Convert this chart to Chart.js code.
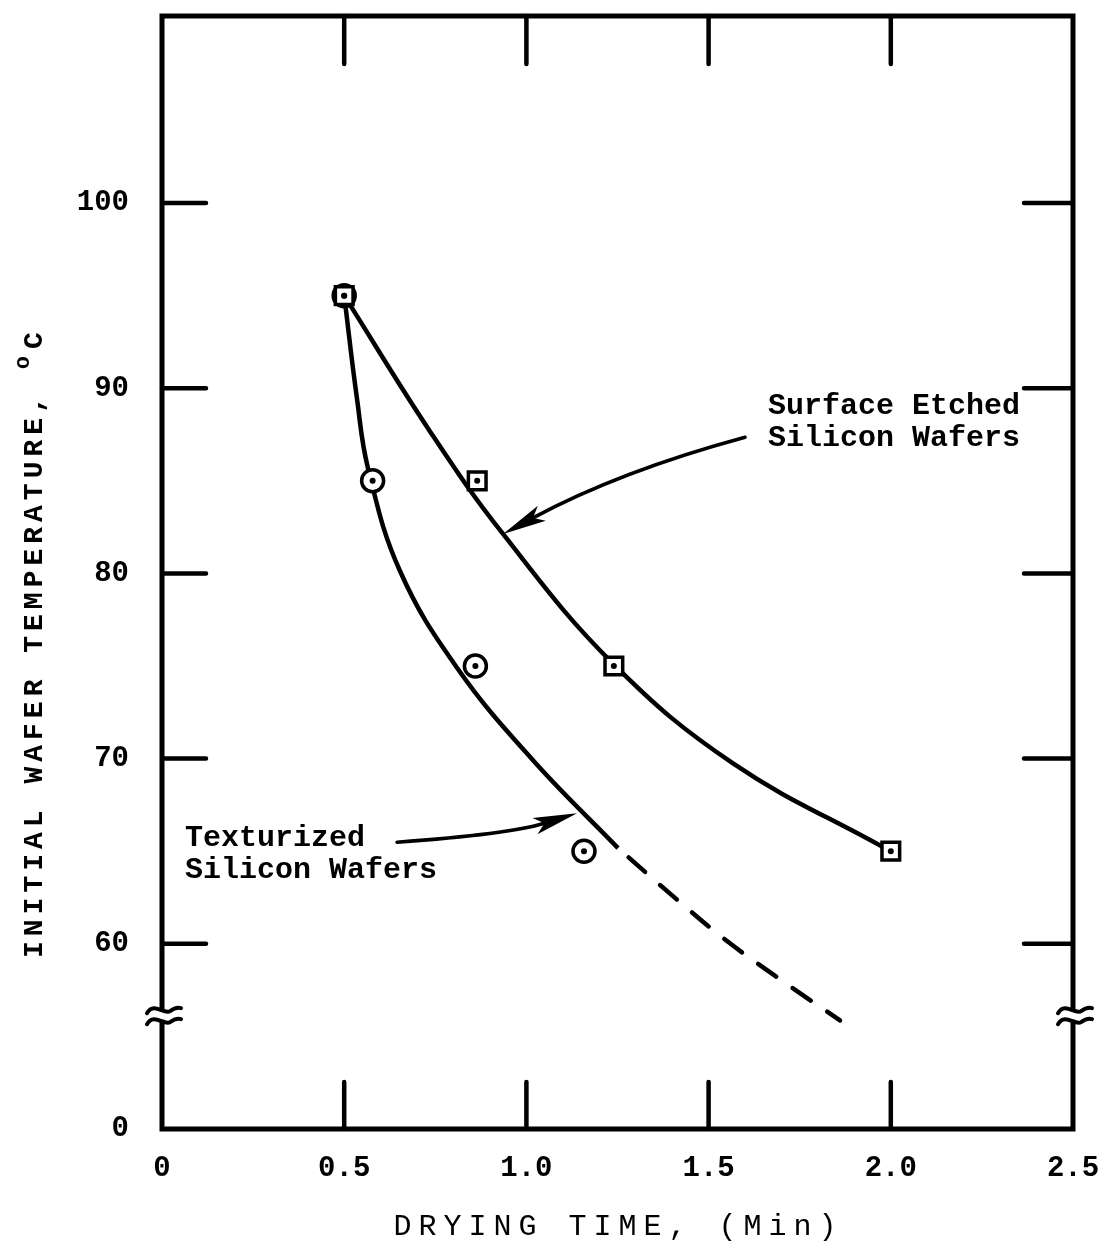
<!DOCTYPE html>
<html>
<head>
<meta charset="utf-8">
<title>Drying time vs initial wafer temperature</title>
<script src="https://cdn.jsdelivr.net/npm/chart.js@4/dist/chart.umd.min.js"></script>
<style>
  html, body { margin: 0; padding: 0; background: #fff; }
  #wrap { width: 1101px; height: 1241px; }
</style>
</head>
<body>
<div id="wrap"><canvas id="c" width="1101" height="1241"></canvas></div>
<script>
// Measured points: drying time (min) against initial wafer temperature (°C)
const etchedTime = [0.5, 0.865, 1.24, 2.0];
const etchedTemp = [95, 85, 75, 65];
const texturedTime = [0.5, 0.578, 0.86, 1.158];
const texturedTemp = [95, 85, 75, 65];

// Faired curve through the surface etched wafers
const etchedCurveTime = [0.5, 0.7355, 0.9358, 1.2377, 1.567, 1.9786];
const etchedCurveTemp = [95, 87.67, 82.13, 75.13, 69.74, 65.22];

// Faired curve through the texturized wafers (solid part)
const texturedCurveTime = [0.5, 0.535, 0.5653, 0.6531, 0.8095, 1.0181, 1.2514];
const texturedCurveTemp = [95, 89.45, 85.68, 80.13, 74.91, 69.91, 65.17];

// Extrapolated part (dashed)
const texturedExtTime = [1.2514, 1.4078, 1.5532, 1.7097, 1.8606];
const texturedExtTemp = [65.17, 62.48, 60.11, 57.90, 55.86];

// Axis ticks (the temperature axis is broken: its bottom end is labelled 0)
const xTickValues = [0, 0.5, 1.0, 1.5, 2.0, 2.5];
const xTickLabels = ['0', '0.5', '1.0', '1.5', '2.0', '2.5'];
const yTickValues = [50, 60, 70, 80, 90, 100];
const yTickLabels = ['0', '60', '70', '80', '90', '100'];
const xMarkValues = [0.5, 1.0, 1.5, 2.0];
const yMarkValues = [60, 70, 80, 90, 100];
const yBreakValue = 56.2;

// Callout labels and arrows, in data units
const etchedLabel = ['Surface Etched', 'Silicon Wafers'];
const etchedLabelPos = [1.663, 88.59, 86.86];
const etchedArrow = [[1.600, 87.35], [1.257, 85.52], [0.936, 82.13]];
const texturedLabel = ['Texturized', 'Silicon Wafers'];
const texturedLabelPos = [0.063, 65.28, 63.55];
const texturedArrow = [[0.645, 65.49], [0.952, 65.92], [1.139, 67.05]];

const xTitle = 'DRYING TIME, (Min)';
const yTitle = 'INITIAL WAFER TEMPERATURE, ';

const MONO = '"Liberation Mono", "Courier New", "DejaVu Sans Mono", monospace';
const zip = (xs, ys) => xs.map((x, i) => ({ x: x, y: ys[i] }));

function withSpacing(ctx, px, fn) {
  const had = 'letterSpacing' in ctx;
  const prev = had ? ctx.letterSpacing : null;
  if (had) ctx.letterSpacing = px + 'px';
  fn();
  if (had) ctx.letterSpacing = prev;
}

const framePlugin = {
  id: 'frame',
  afterDatasetsDraw(chart) {
    const ctx = chart.ctx;
    const xs = chart.scales.x, ys = chart.scales.y;
    const a = chart.chartArea;
    const L = a.left, R = a.right, T = a.top, B = a.bottom;
    const yb = ys.getPixelForValue(yBreakValue);
    ctx.save();
    ctx.strokeStyle = '#000';
    ctx.fillStyle = '#000';
    ctx.lineWidth = 5;
    ctx.lineCap = 'square';
    ctx.lineJoin = 'miter';

    // frame with gaps where the vertical axes are broken
    ctx.beginPath();
    ctx.moveTo(L, yb - 7); ctx.lineTo(L, T); ctx.lineTo(R, T); ctx.lineTo(R, yb - 7);
    ctx.moveTo(L, yb + 8); ctx.lineTo(L, B); ctx.lineTo(R, B); ctx.lineTo(R, yb + 8);
    ctx.stroke();

    // inward tick marks on all four sides
    ctx.lineCap = 'round';
    ctx.lineWidth = 4.5;
    ctx.beginPath();
    xMarkValues.forEach(v => {
      const x = xs.getPixelForValue(v);
      ctx.moveTo(x, B); ctx.lineTo(x, B - 47);
      ctx.moveTo(x, T); ctx.lineTo(x, T + 48);
    });
    yMarkValues.forEach(v => {
      const y = ys.getPixelForValue(v);
      ctx.moveTo(L, y); ctx.lineTo(L + 44, y);
      ctx.moveTo(R, y); ctx.lineTo(R - 49, y);
    });
    ctx.stroke();

    // break symbols
    ctx.lineWidth = 4;
    [L, R].forEach(x0 => {
      [-5, 6].forEach(dy => {
        const y = yb + dy;
        ctx.beginPath();
        ctx.moveTo(x0 - 15, y + 4);
        ctx.bezierCurveTo(x0 - 8, y - 8, x0 + 2, y + 6, x0 + 8, y + 2);
        ctx.bezierCurveTo(x0 + 12, y - 1, x0 + 16, y - 2, x0 + 19, y - 1);
        ctx.stroke();
      });
    });

    // callout arrows
    const drawArrow = (pts) => {
      const p = pts.map(q => [xs.getPixelForValue(q[0]), ys.getPixelForValue(q[1])]);
      const tip = p[2], c = p[1];
      const dx = tip[0] - c[0], dy = tip[1] - c[1];
      const len = Math.hypot(dx, dy);
      const ux = dx / len, uy = dy / len;
      const headLen = 44, halfW = 8.5;
      const bx = tip[0] - ux * headLen, by = tip[1] - uy * headLen;
      ctx.lineWidth = 3.5;
      ctx.lineCap = 'round';
      ctx.beginPath();
      ctx.moveTo(p[0][0], p[0][1]);
      ctx.quadraticCurveTo(c[0], c[1], bx + ux * 10, by + uy * 10);
      ctx.stroke();
      ctx.beginPath();
      ctx.moveTo(tip[0], tip[1]);
      ctx.lineTo(bx - uy * halfW, by + ux * halfW);
      ctx.lineTo(bx + ux * 10, by + uy * 10);
      ctx.lineTo(bx + uy * halfW, by - ux * halfW);
      ctx.closePath();
      ctx.fill();
    };
    drawArrow(etchedArrow);
    drawArrow(texturedArrow);

    // callout labels
    ctx.font = 'bold 30px ' + MONO;
    ctx.textAlign = 'left';
    ctx.textBaseline = 'alphabetic';
    const ex = xs.getPixelForValue(etchedLabelPos[0]);
    ctx.fillText(etchedLabel[0], ex, ys.getPixelForValue(etchedLabelPos[1]));
    ctx.fillText(etchedLabel[1], ex, ys.getPixelForValue(etchedLabelPos[2]));
    const tx = xs.getPixelForValue(texturedLabelPos[0]);
    ctx.fillText(texturedLabel[0], tx, ys.getPixelForValue(texturedLabelPos[1]));
    ctx.fillText(texturedLabel[1], tx, ys.getPixelForValue(texturedLabelPos[2]));

    // axis titles
    ctx.font = '30px ' + MONO;
    ctx.textAlign = 'center';
    withSpacing(ctx, 7, () => {
      ctx.fillText(xTitle, 618.5, 1235);
    });

    ctx.save();
    ctx.translate(42, 0);
    ctx.rotate(-Math.PI / 2);
    ctx.font = 'bold 28px ' + MONO;
    ctx.textAlign = 'left';
    withSpacing(ctx, 5, () => {
      const start = -958;
      ctx.fillText(yTitle, start, 0);
      const w = ctx.measureText(yTitle).width;
      ctx.font = 'bold 22px ' + MONO;
      ctx.fillText('o', start + w, -13);
      const w2 = ctx.measureText('o').width;
      ctx.font = 'bold 28px ' + MONO;
      ctx.fillText('C', start + w + w2 + 2, 0);
    });
    ctx.restore();

    ctx.restore();
  }
};

const tickFont = { family: MONO, size: 29, weight: 'bold' };

new Chart(document.getElementById('c'), {
  type: 'scatter',
  data: {
    datasets: [
      {
        label: 'etched centre dots',
        data: zip(etchedTime, etchedTemp),
        pointStyle: 'circle', pointRadius: 3, backgroundColor: '#000', borderWidth: 0,
        order: 0
      },
      {
        label: 'texturized centre dots',
        data: zip(texturedTime, texturedTemp),
        pointStyle: 'circle', pointRadius: 3, backgroundColor: '#000', borderWidth: 0,
        order: 0
      },
      {
        label: 'Surface Etched Silicon Wafers',
        data: zip(etchedTime, etchedTemp),
        pointStyle: 'rect', pointRadius: 12.5, borderWidth: 3.5,
        borderColor: '#000', backgroundColor: '#fff',
        order: 1
      },
      {
        label: 'Texturized Silicon Wafers',
        data: zip(texturedTime, texturedTemp),
        pointStyle: 'circle', pointRadius: 11, borderWidth: 3.5,
        borderColor: '#000', backgroundColor: '#fff',
        order: 2
      },
      {
        type: 'line',
        label: 'etched curve',
        data: zip(etchedCurveTime, etchedCurveTemp),
        borderColor: '#000', borderWidth: 4.5, pointRadius: 0, fill: false,
        tension: 0.4,
        order: 5
      },
      {
        type: 'line',
        label: 'texturized curve',
        data: zip(texturedCurveTime, texturedCurveTemp),
        borderColor: '#000', borderWidth: 4.5, pointRadius: 0, fill: false,
        tension: 0.4,
        order: 5
      },
      {
        type: 'line',
        label: 'texturized extrapolation',
        data: zip(texturedExtTime, texturedExtTemp),
        borderColor: '#000', borderWidth: 4.5, pointRadius: 0, fill: false,
        borderDash: [22, 20], borderDashOffset: -14, borderCapStyle: 'round',
        tension: 0.4,
        order: 5
      }
    ]
  },
  options: {
    responsive: false,
    animation: false,
    events: [],
    layout: { padding: { top: 13, right: 28, left: 0, bottom: 0 } },
    plugins: { legend: { display: false }, tooltip: { enabled: false }, title: { display: false } },
    scales: {
      x: {
        type: 'linear', min: 0, max: 2.5,
        afterBuildTicks: s => { s.ticks = xTickValues.map(v => ({ value: v })); },
        afterFit: s => { s.height = 112; s.paddingLeft = 0; s.paddingRight = 0; },
        ticks: {
          callback: (v, i) => xTickLabels[i],
          font: tickFont, color: '#000', padding: 22,
          maxRotation: 0, autoSkip: false
        },
        grid: { display: false, drawTicks: false },
        border: { display: false }
      },
      y: {
        type: 'linear', min: 50, max: 110.1,
        afterBuildTicks: s => { s.ticks = yTickValues.map(v => ({ value: v })); },
        afterFit: s => { s.width = 162; s.paddingTop = 0; s.paddingBottom = 0; },
        ticks: {
          callback: (v, i) => yTickLabels[i],
          font: tickFont, color: '#000', padding: 33,
          autoSkip: false
        },
        grid: { display: false, drawTicks: false },
        border: { display: false }
      }
    }
  },
  plugins: [framePlugin]
});
</script>
</body>
</html>
